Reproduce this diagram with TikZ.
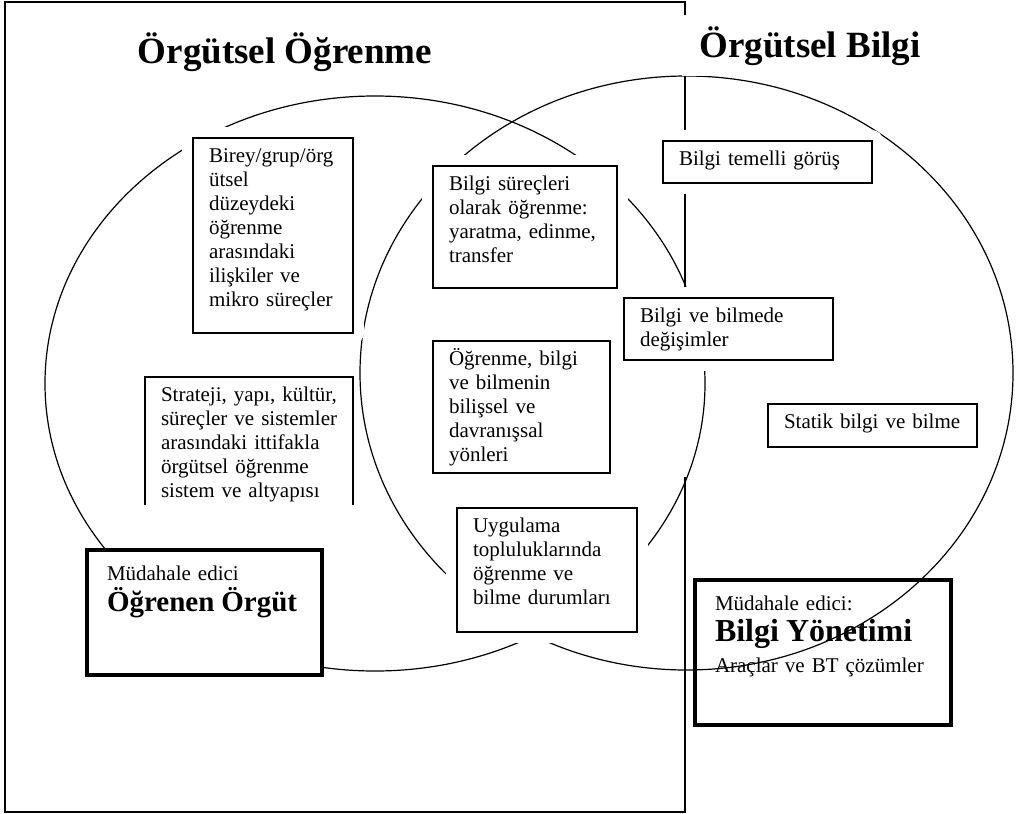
\documentclass[tikz,border=0pt]{standalone}
\usepackage{fontspec}
\setmainfont{Liberation Serif}
\usepackage{tikz}
\usetikzlibrary{shapes.geometric}

\begin{document}
\begin{tikzpicture}[
    x=1pt, y=-1pt,
    font=\fontsize{21}{24}\selectfont,
    venn/.style={ellipse, draw, line width=1.2pt, inner sep=0pt},
    halo/.style={preaction={draw=white, fill=white, line width=22pt, line join=round}},
    plainbox/.style={rectangle, draw, line width=1.7pt, fill=white, anchor=north west, align=left, inner xsep=16pt, inner ysep=8pt, outer sep=0pt, text height=16pt, execute at begin node={\hyphenpenalty=10000\relax}},
    textbox/.style={plainbox, halo},
    thickbox/.style={rectangle, draw, line width=3.8pt, anchor=north west, align=left, inner xsep=20pt, inner ysep=14pt, outer sep=0pt, text height=16pt, font=\fontsize{21}{31}\selectfont},
    heading/.style={fill=white, inner xsep=18pt, inner ysep=11pt, anchor=base, font=\fontsize{37}{40}\selectfont\bfseries}
]
\useasboundingbox (0,0) rectangle (1018,814);

% the two sets
\node[venn, minimum width=660pt, minimum height=575pt] (learn) at (375,383.5) {};
\node[venn, minimum width=653pt, minimum height=594pt] (know) at (686.5,373) {};

% frame round the learning side
\draw[line width=1.6pt] (685,477) -- (685,812) -- (5,812) -- (5,2) -- (685,2) -- (685,287);

\node[heading] (tLearn) at (285,63) {Örgütsel Öğrenme};
\node[heading] (tKnow) at (810,57) {Örgütsel Bilgi};

\node[textbox, text width=128pt, text depth=163pt] (birey) at (193,138) {Birey/grup/örg\\ütsel\\düzeydeki\\öğrenme\\arasındaki\\ilişkiler ve\\mikro süreçler};
\node[textbox, text width=152pt, text depth=90pt] (surec) at (433,166) {Bilgi süreçleri\\olarak öğrenme:\\yaratma, edinme,\\transfer};
\node[textbox, text width=177pt, text depth=10pt] (temel) at (663,141) {Bilgi temelli görüş};
\node[textbox, text width=177pt, text depth=30pt] (degisim) at (624,298) {Bilgi ve bilmede\\değişimler};
\node[textbox, text width=145pt, text depth=100pt] (boyut) at (433,341) {Öğrenme, bilgi\\ve bilmenin\\bilişsel ve\\davranışsal\\yönleri};
\node[textbox, text width=177pt, text depth=11pt] (statik) at (768,404) {Statik bilgi ve bilme};
\node[textbox, text width=148pt, text depth=92pt] (uygulama) at (457,508) {Uygulama\\topluluklarında\\öğrenme ve\\bilme durumları};

% open at the bottom
\node[plainbox, draw=none, text width=176pt, text depth=96pt] (strateji) at (145,377) {Strateji,~yapı,~kültür,\\süreçler~ve~sistemler\\arasındaki~ittifakla\\örgütsel~öğrenme\\sistem~ve~altyapısı};
\draw[line width=1.7pt] (strateji.south west) |- (strateji.north east) -- (strateji.south east);

\node[thickbox, fill=white, text width=195pt, text depth=81pt] (orgut) at (87,550) {Müdahale edici\\{\fontsize{29}{31}\selectfont\bfseries Öğrenen Örgüt}};
\node[thickbox, text width=216pt, text depth=101pt] (yonetim) at (695,580) {Müdahale edici:\\{\fontsize{32}{31}\selectfont\bfseries Bilgi Yönetimi}\\Araçlar ve BT çözümler};
\end{tikzpicture}
\end{document}
